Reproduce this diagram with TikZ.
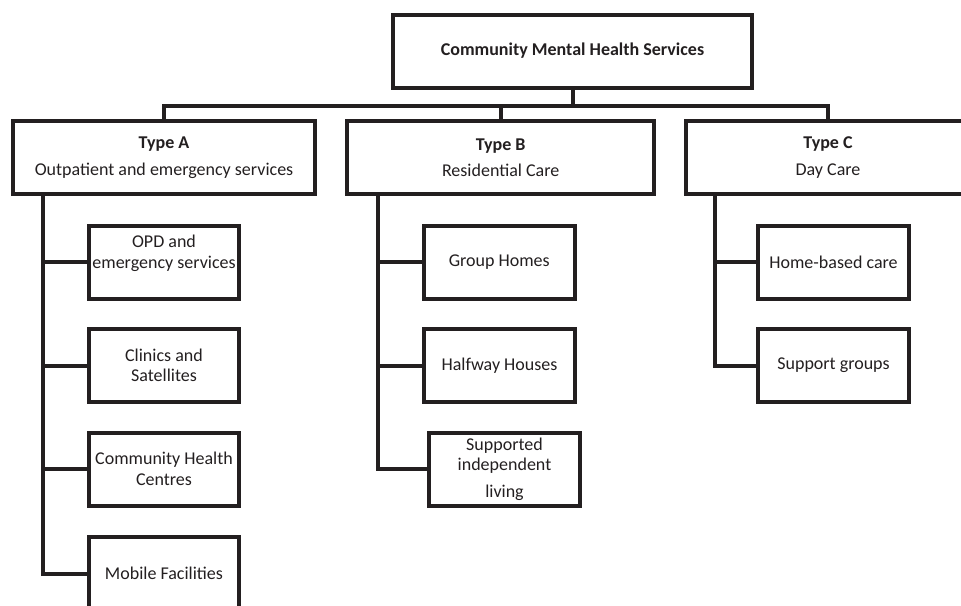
\documentclass[tikz,border=0pt]{standalone}
\usepackage{fontspec}
\setmainfont{Carlito}
\definecolor{ink}{HTML}{231F20}
\begin{document}
\begin{tikzpicture}[x=1pt,y=-1pt,
  ln/.style={line width=4pt, draw=ink},
  box/.style={ln, rectangle, inner sep=0pt, outer sep=0pt, align=center, text=ink,
              font=\fontsize{18}{20.5}\selectfont},
  typebox/.style={box, minimum height=73pt},
  childbox/.style={box, minimum width=150.6pt, minimum height=73pt}]
\useasboundingbox (0,0) rectangle (961,605);
\clip (0,0) rectangle (961,605);

% root
\node[box, minimum width=359pt, minimum height=73pt] (top) at (572.5,51)
  {\textbf{Community Mental Health Services}};

% types
\node[typebox, minimum width=302pt] (A) at (164,157.5)
  {\textbf{Type A}\\[6pt]Outpatient and emergency services};
\node[typebox, minimum width=306.5pt] (B) at (500.7,157.5)
  {\textbf{Type B}\\[6pt]Residential Care};
\node[typebox, minimum width=284pt] (C) at (828,157.5)
  {\textbf{Type C}\\[6pt]Day Care};

% children A
\node[childbox] (a1) at (164,262) {OPD and\\emergency services\\\mbox{}};
\node[childbox] (a2) at (164,365.5) {Clinics and\\Satellites};
\node[childbox] (a3) at (164,469) {Community Health\\Centres};
\node[childbox] (a4) at (164,573.5) {Mobile Facilities};

% children B
\node[childbox] (b1) at (499.3,262) {Group Homes};
\node[childbox] (b2) at (499.5,365.5) {Halfway Houses};
\node[childbox] (b3) at (504.5,469) {Supported\\independent\\[6pt]living};

% children C
\node[childbox, minimum width=151pt] (c1) at (833.5,262) {Home-based care};
\node[childbox, minimum width=151pt] (c2) at (833.5,365.5) {Support groups};

% root to types
\draw[ln] (top.south) -- ++(0,18.5) -| (A.north);
\draw[ln] (top.south) -- ++(0,18.5) -| (B.north);
\draw[ln] (top.south) -- ++(0,18.5) -| (C.north);

% trunks
\coordinate (tA) at ([xshift=29.7pt]A.south west);
\coordinate (tB) at ([xshift=30.5pt]B.south west);
\coordinate (tC) at ([xshift=29pt]C.south west);

\draw[ln] (tA) |- (a4.west);
\foreach \n in {a1,a2,a3} \draw[ln] (tA |- \n.west) -- (\n.west);

\draw[ln] (tB) |- (b3.west);
\foreach \n in {b1,b2} \draw[ln] (tB |- \n.west) -- (\n.west);

\draw[ln] (tC) |- (c2.west);
\draw[ln] (tC |- c1.west) -- (c1.west);
\end{tikzpicture}
\end{document}
